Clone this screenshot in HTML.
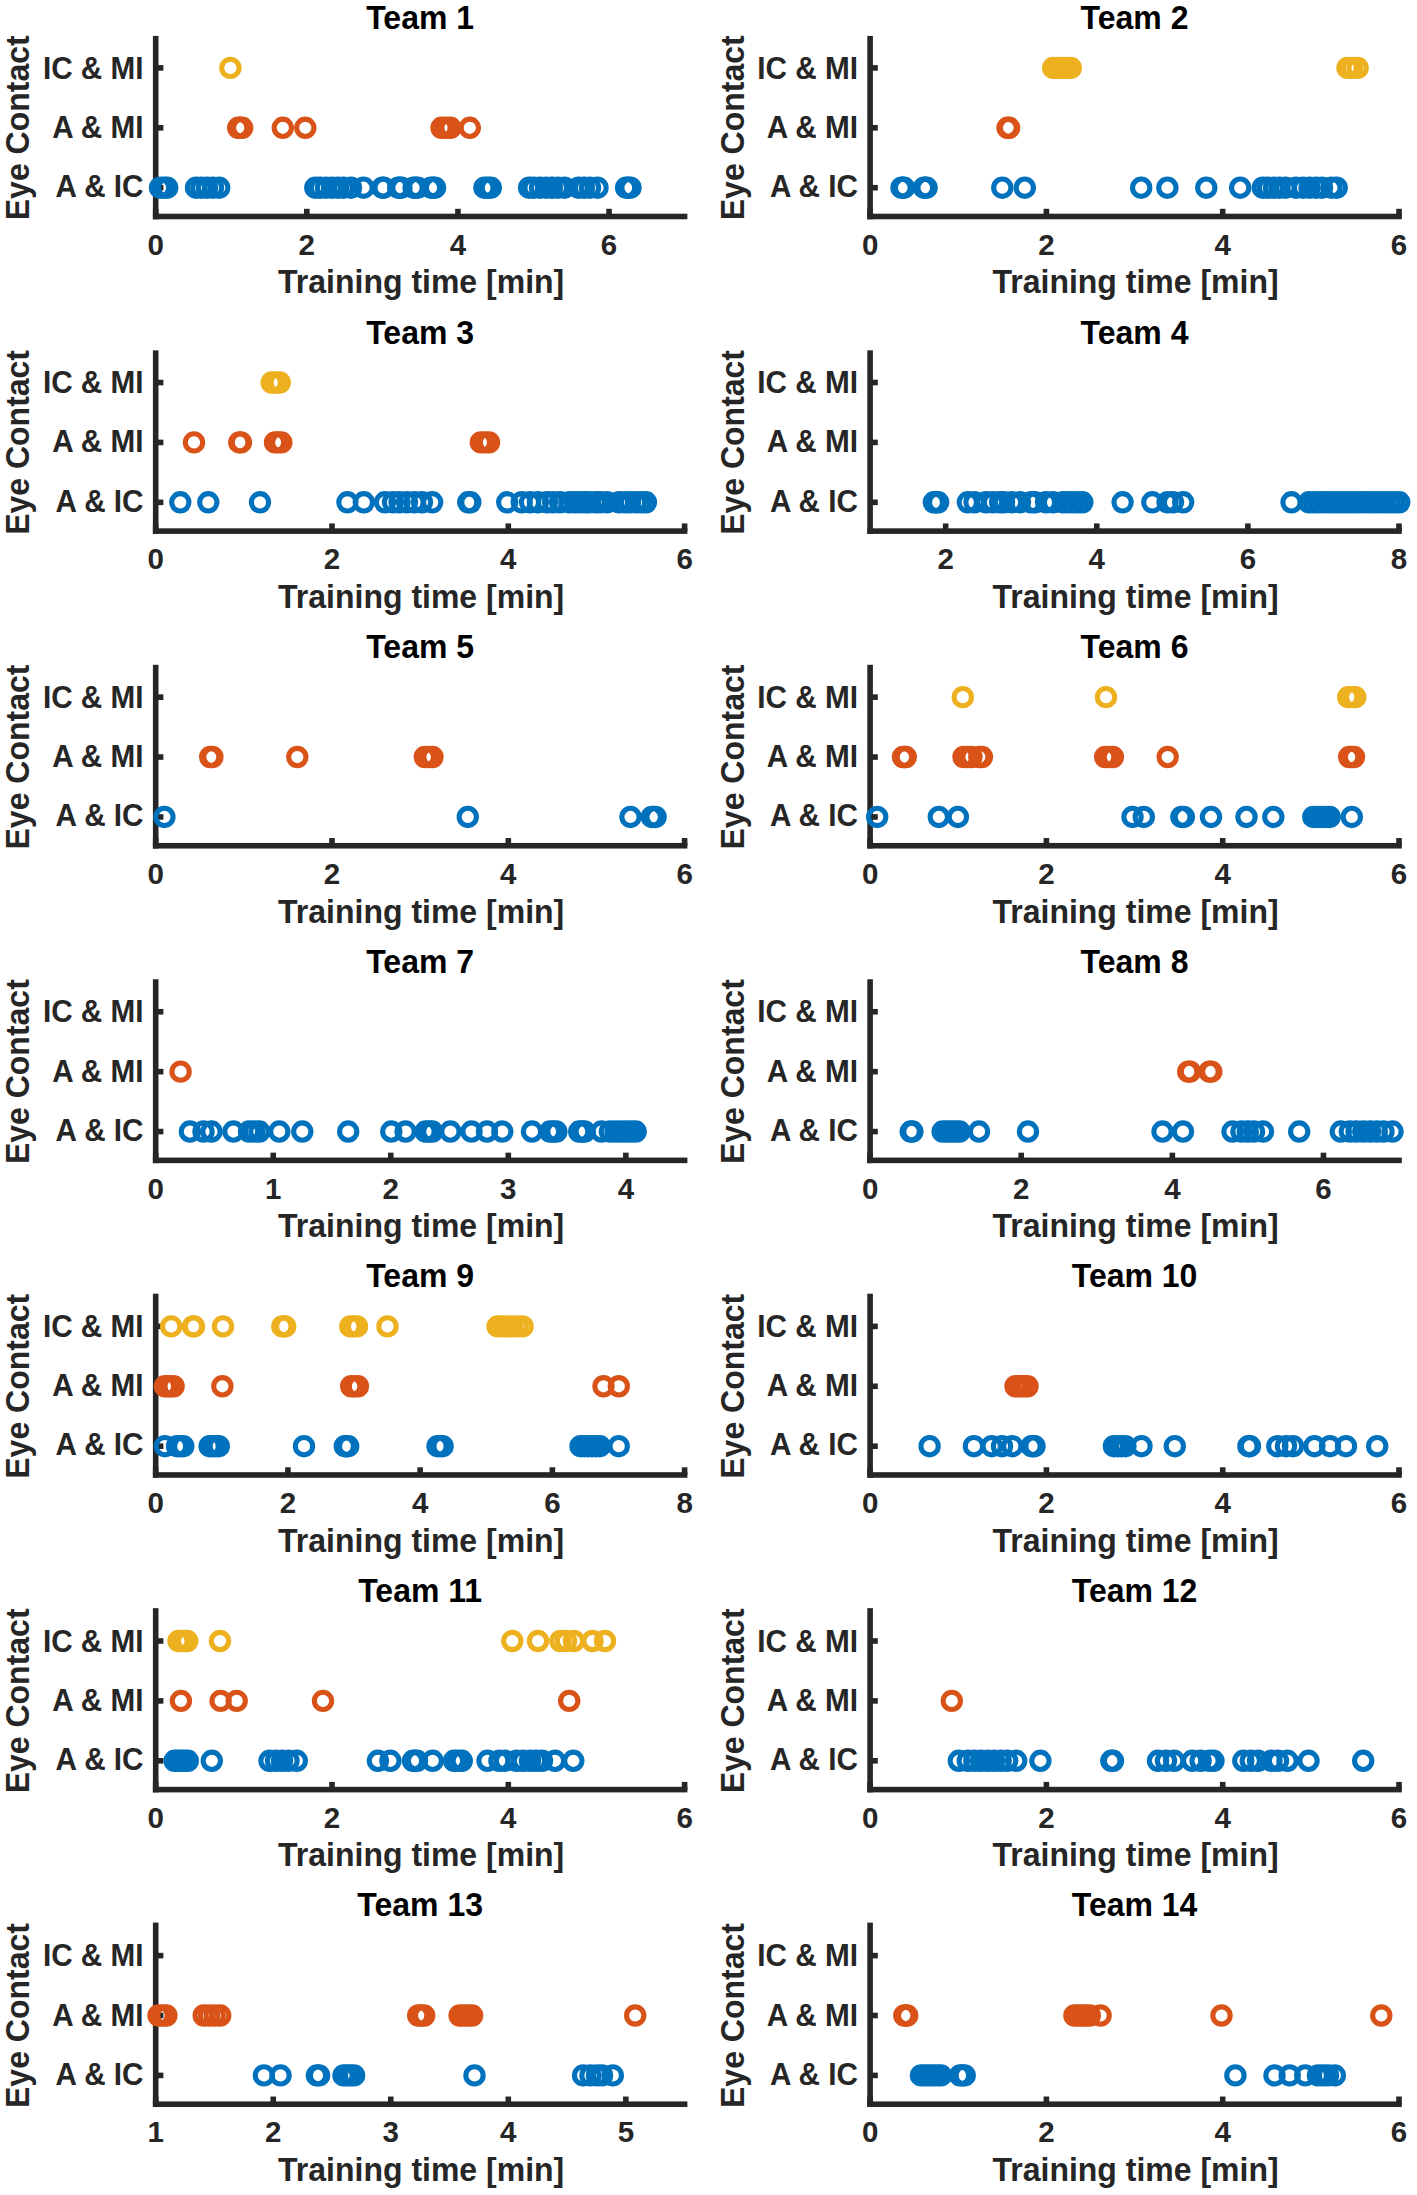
<!DOCTYPE html>
<html><head><meta charset="utf-8"><title>Eye Contact</title>
<style>html,body{margin:0;padding:0;background:#fff;width:1417px;height:2195px;overflow:hidden}
svg{display:block;font-family:"Liberation Sans",sans-serif}</style></head>
<body>
<svg width="1417" height="2195" viewBox="0 0 1417 2195"><g fill="#262626">
<rect x="152.9" y="35.9" width="5.6" height="183.4"/>
<rect x="152.9" y="213.7" width="534.5" height="5.6"/>
<rect x="155.7" y="65.1" width="7.7" height="5.6"/>
<rect x="155.7" y="125" width="7.7" height="5.6"/>
<rect x="155.7" y="184.9" width="7.7" height="5.6"/>
<rect x="152.9" y="208.8" width="5.6" height="7.7"/>
<rect x="304.01" y="208.8" width="5.6" height="7.7"/>
<rect x="455.13" y="208.8" width="5.6" height="7.7"/>
<rect x="606.24" y="208.8" width="5.6" height="7.7"/>
</g>
<g fill="#262626" font-family="Liberation Sans, sans-serif" font-weight="bold">
<text transform="translate(143.5 78.6) scale(1 1.045)" font-size="29.7" text-anchor="end">IC &amp; MI</text>
<text transform="translate(143.5 137.8) scale(1 1.045)" font-size="29.7" text-anchor="end">A &amp; MI</text>
<text transform="translate(143.5 197) scale(1 1.045)" font-size="29.7" text-anchor="end">A &amp; IC</text>
<text transform="translate(155.7 254.7) scale(1 1.02)" font-size="29.5" text-anchor="middle">0</text>
<text transform="translate(306.81 254.7) scale(1 1.02)" font-size="29.5" text-anchor="middle">2</text>
<text transform="translate(457.93 254.7) scale(1 1.02)" font-size="29.5" text-anchor="middle">4</text>
<text transform="translate(609.04 254.7) scale(1 1.02)" font-size="29.5" text-anchor="middle">6</text>
<text transform="translate(421.15 293.3) scale(1 1.045)" font-size="32" text-anchor="middle">Training time [min]</text>
<text transform="translate(29.4 127.8) rotate(-90) scale(1 1.045)" font-size="32" text-anchor="middle">Eye Contact</text>
</g>
<g fill="none" stroke="#0072BD" stroke-width="5.1"><circle cx="160" cy="187.7" r="8.65"/><circle cx="164" cy="187.7" r="8.65"/><circle cx="167.2" cy="187.7" r="8.65"/><circle cx="196" cy="187.7" r="8.65"/><circle cx="201.3" cy="187.7" r="8.65"/><circle cx="207" cy="187.7" r="8.65"/><circle cx="213" cy="187.7" r="8.65"/><circle cx="219.2" cy="187.7" r="8.65"/><circle cx="315.3" cy="187.7" r="8.65"/><circle cx="320" cy="187.7" r="8.65"/><circle cx="326" cy="187.7" r="8.65"/><circle cx="332" cy="187.7" r="8.65"/><circle cx="338" cy="187.7" r="8.65"/><circle cx="343.5" cy="187.7" r="8.65"/><circle cx="351" cy="187.7" r="8.65"/><circle cx="363.5" cy="187.7" r="8.65"/><circle cx="382.4" cy="187.7" r="8.65"/><circle cx="383.6" cy="187.7" r="8.65"/><circle cx="398.2" cy="187.7" r="8.65"/><circle cx="399.8" cy="187.7" r="8.65"/><circle cx="401.4" cy="187.7" r="8.65"/><circle cx="413.6" cy="187.7" r="8.65"/><circle cx="415.65" cy="187.7" r="8.65"/><circle cx="417.7" cy="187.7" r="8.65"/><circle cx="431" cy="187.7" r="8.65"/><circle cx="433" cy="187.7" r="8.65"/><circle cx="435" cy="187.7" r="8.65"/><circle cx="484.4" cy="187.7" r="8.65"/><circle cx="487.6" cy="187.7" r="8.65"/><circle cx="490.8" cy="187.7" r="8.65"/><circle cx="529.1" cy="187.7" r="8.65"/><circle cx="533.6" cy="187.7" r="8.65"/><circle cx="540" cy="187.7" r="8.65"/><circle cx="546" cy="187.7" r="8.65"/><circle cx="552" cy="187.7" r="8.65"/><circle cx="558" cy="187.7" r="8.65"/><circle cx="564.5" cy="187.7" r="8.65"/><circle cx="578.5" cy="187.7" r="8.65"/><circle cx="584" cy="187.7" r="8.65"/><circle cx="590" cy="187.7" r="8.65"/><circle cx="597.5" cy="187.7" r="8.65"/><circle cx="626.1" cy="187.7" r="8.65"/><circle cx="628.3" cy="187.7" r="8.65"/><circle cx="630.5" cy="187.7" r="8.65"/></g>
<g fill="none" stroke="#D95319" stroke-width="5.1"><circle cx="238.2" cy="127.8" r="8.65"/><circle cx="240.2" cy="127.8" r="8.65"/><circle cx="242.2" cy="127.8" r="8.65"/><circle cx="282.8" cy="127.8" r="8.65"/><circle cx="305.3" cy="127.8" r="8.65"/><circle cx="441.5" cy="127.8" r="8.65"/><circle cx="446" cy="127.8" r="8.65"/><circle cx="450.5" cy="127.8" r="8.65"/><circle cx="469.8" cy="127.8" r="8.65"/></g>
<g fill="none" stroke="#EDB120" stroke-width="5.1"><circle cx="230.4" cy="67.9" r="8.65"/></g>
<text transform="translate(420.15 29.2) scale(1 1.045)" font-family="Liberation Sans, sans-serif" font-weight="bold" font-size="32" fill="#000" text-anchor="middle">Team 1</text>
<g fill="#262626">
<rect x="867.3" y="35.9" width="5.6" height="183.4"/>
<rect x="867.3" y="213.7" width="534.5" height="5.6"/>
<rect x="870.1" y="65.1" width="7.7" height="5.6"/>
<rect x="870.1" y="125" width="7.7" height="5.6"/>
<rect x="870.1" y="184.9" width="7.7" height="5.6"/>
<rect x="867.3" y="208.8" width="5.6" height="7.7"/>
<rect x="1043.6" y="208.8" width="5.6" height="7.7"/>
<rect x="1219.9" y="208.8" width="5.6" height="7.7"/>
<rect x="1396.2" y="208.8" width="5.6" height="7.7"/>
</g>
<g fill="#262626" font-family="Liberation Sans, sans-serif" font-weight="bold">
<text transform="translate(857.9 78.6) scale(1 1.045)" font-size="29.7" text-anchor="end">IC &amp; MI</text>
<text transform="translate(857.9 137.8) scale(1 1.045)" font-size="29.7" text-anchor="end">A &amp; MI</text>
<text transform="translate(857.9 197) scale(1 1.045)" font-size="29.7" text-anchor="end">A &amp; IC</text>
<text transform="translate(870.1 254.7) scale(1 1.02)" font-size="29.5" text-anchor="middle">0</text>
<text transform="translate(1046.4 254.7) scale(1 1.02)" font-size="29.5" text-anchor="middle">2</text>
<text transform="translate(1222.7 254.7) scale(1 1.02)" font-size="29.5" text-anchor="middle">4</text>
<text transform="translate(1399 254.7) scale(1 1.02)" font-size="29.5" text-anchor="middle">6</text>
<text transform="translate(1135.55 293.3) scale(1 1.045)" font-size="32" text-anchor="middle">Training time [min]</text>
<text transform="translate(743.8 127.8) rotate(-90) scale(1 1.045)" font-size="32" text-anchor="middle">Eye Contact</text>
</g>
<g fill="none" stroke="#0072BD" stroke-width="5.1"><circle cx="901.5" cy="187.7" r="8.65"/><circle cx="902.75" cy="187.7" r="8.65"/><circle cx="904" cy="187.7" r="8.65"/><circle cx="924" cy="187.7" r="8.65"/><circle cx="925.3" cy="187.7" r="8.65"/><circle cx="926.6" cy="187.7" r="8.65"/><circle cx="1002.3" cy="187.7" r="8.65"/><circle cx="1024.8" cy="187.7" r="8.65"/><circle cx="1141.2" cy="187.7" r="8.65"/><circle cx="1167.4" cy="187.7" r="8.65"/><circle cx="1206.3" cy="187.7" r="8.65"/><circle cx="1240.2" cy="187.7" r="8.65"/><circle cx="1262.8" cy="187.7" r="8.65"/><circle cx="1268" cy="187.7" r="8.65"/><circle cx="1274" cy="187.7" r="8.65"/><circle cx="1279.5" cy="187.7" r="8.65"/><circle cx="1285.5" cy="187.7" r="8.65"/><circle cx="1296" cy="187.7" r="8.65"/><circle cx="1303" cy="187.7" r="8.65"/><circle cx="1309.5" cy="187.7" r="8.65"/><circle cx="1316" cy="187.7" r="8.65"/><circle cx="1322" cy="187.7" r="8.65"/><circle cx="1331.4" cy="187.7" r="8.65"/><circle cx="1336.7" cy="187.7" r="8.65"/></g>
<g fill="none" stroke="#D95319" stroke-width="5.1"><circle cx="1007.5" cy="127.8" r="8.65"/><circle cx="1009.1" cy="127.8" r="8.65"/></g>
<g fill="none" stroke="#EDB120" stroke-width="5.1"><circle cx="1053.2" cy="67.9" r="8.65"/><circle cx="1057.6" cy="67.9" r="8.65"/><circle cx="1062" cy="67.9" r="8.65"/><circle cx="1066.4" cy="67.9" r="8.65"/><circle cx="1070.8" cy="67.9" r="8.65"/><circle cx="1347.5" cy="67.9" r="8.65"/><circle cx="1352" cy="67.9" r="8.65"/><circle cx="1357.6" cy="67.9" r="8.65"/></g>
<text transform="translate(1134.55 29.2) scale(1 1.045)" font-family="Liberation Sans, sans-serif" font-weight="bold" font-size="32" fill="#000" text-anchor="middle">Team 2</text>
<g fill="#262626">
<rect x="152.9" y="350.35" width="5.6" height="183.57"/>
<rect x="152.9" y="528.32" width="534.5" height="5.6"/>
<rect x="155.7" y="379.72" width="7.7" height="5.6"/>
<rect x="155.7" y="439.62" width="7.7" height="5.6"/>
<rect x="155.7" y="499.52" width="7.7" height="5.6"/>
<rect x="152.9" y="523.42" width="5.6" height="7.7"/>
<rect x="329.2" y="523.42" width="5.6" height="7.7"/>
<rect x="505.5" y="523.42" width="5.6" height="7.7"/>
<rect x="681.8" y="523.42" width="5.6" height="7.7"/>
</g>
<g fill="#262626" font-family="Liberation Sans, sans-serif" font-weight="bold">
<text transform="translate(143.5 393.22) scale(1 1.045)" font-size="29.7" text-anchor="end">IC &amp; MI</text>
<text transform="translate(143.5 452.42) scale(1 1.045)" font-size="29.7" text-anchor="end">A &amp; MI</text>
<text transform="translate(143.5 511.62) scale(1 1.045)" font-size="29.7" text-anchor="end">A &amp; IC</text>
<text transform="translate(155.7 569.32) scale(1 1.02)" font-size="29.5" text-anchor="middle">0</text>
<text transform="translate(332 569.32) scale(1 1.02)" font-size="29.5" text-anchor="middle">2</text>
<text transform="translate(508.3 569.32) scale(1 1.02)" font-size="29.5" text-anchor="middle">4</text>
<text transform="translate(684.6 569.32) scale(1 1.02)" font-size="29.5" text-anchor="middle">6</text>
<text transform="translate(421.15 607.92) scale(1 1.045)" font-size="32" text-anchor="middle">Training time [min]</text>
<text transform="translate(29.4 442.42) rotate(-90) scale(1 1.045)" font-size="32" text-anchor="middle">Eye Contact</text>
</g>
<g fill="none" stroke="#0072BD" stroke-width="5.1"><circle cx="180.3" cy="502.32" r="8.65"/><circle cx="208.3" cy="502.32" r="8.65"/><circle cx="260" cy="502.32" r="8.65"/><circle cx="347.4" cy="502.32" r="8.65"/><circle cx="363.8" cy="502.32" r="8.65"/><circle cx="385" cy="502.32" r="8.65"/><circle cx="393" cy="502.32" r="8.65"/><circle cx="399.5" cy="502.32" r="8.65"/><circle cx="407" cy="502.32" r="8.65"/><circle cx="414.5" cy="502.32" r="8.65"/><circle cx="422" cy="502.32" r="8.65"/><circle cx="432.2" cy="502.32" r="8.65"/><circle cx="468.2" cy="502.32" r="8.65"/><circle cx="470.4" cy="502.32" r="8.65"/><circle cx="507.2" cy="502.32" r="8.65"/><circle cx="521.7" cy="502.32" r="8.65"/><circle cx="530" cy="502.32" r="8.65"/><circle cx="537.9" cy="502.32" r="8.65"/><circle cx="547" cy="502.32" r="8.65"/><circle cx="553" cy="502.32" r="8.65"/><circle cx="560" cy="502.32" r="8.65"/><circle cx="569.4" cy="502.32" r="8.65"/><circle cx="575" cy="502.32" r="8.65"/><circle cx="580" cy="502.32" r="8.65"/><circle cx="585" cy="502.32" r="8.65"/><circle cx="589" cy="502.32" r="8.65"/><circle cx="595.5" cy="502.32" r="8.65"/><circle cx="600" cy="502.32" r="8.65"/><circle cx="607" cy="502.32" r="8.65"/><circle cx="619" cy="502.32" r="8.65"/><circle cx="625" cy="502.32" r="8.65"/><circle cx="630" cy="502.32" r="8.65"/><circle cx="636" cy="502.32" r="8.65"/><circle cx="641" cy="502.32" r="8.65"/><circle cx="646" cy="502.32" r="8.65"/></g>
<g fill="none" stroke="#D95319" stroke-width="5.1"><circle cx="194" cy="442.42" r="8.65"/><circle cx="239.3" cy="442.42" r="8.65"/><circle cx="240.9" cy="442.42" r="8.65"/><circle cx="275" cy="442.42" r="8.65"/><circle cx="278" cy="442.42" r="8.65"/><circle cx="281.3" cy="442.42" r="8.65"/><circle cx="480.8" cy="442.42" r="8.65"/><circle cx="484.9" cy="442.42" r="8.65"/><circle cx="489" cy="442.42" r="8.65"/></g>
<g fill="none" stroke="#EDB120" stroke-width="5.1"><circle cx="271.7" cy="382.52" r="8.65"/><circle cx="275.7" cy="382.52" r="8.65"/><circle cx="279.7" cy="382.52" r="8.65"/></g>
<text transform="translate(420.15 343.7) scale(1 1.045)" font-family="Liberation Sans, sans-serif" font-weight="bold" font-size="32" fill="#000" text-anchor="middle">Team 3</text>
<g fill="#262626">
<rect x="867.3" y="350.35" width="5.6" height="183.57"/>
<rect x="867.3" y="528.32" width="534.5" height="5.6"/>
<rect x="870.1" y="379.72" width="7.7" height="5.6"/>
<rect x="870.1" y="439.62" width="7.7" height="5.6"/>
<rect x="870.1" y="499.52" width="7.7" height="5.6"/>
<rect x="942.86" y="523.42" width="5.6" height="7.7"/>
<rect x="1093.97" y="523.42" width="5.6" height="7.7"/>
<rect x="1245.09" y="523.42" width="5.6" height="7.7"/>
<rect x="1396.2" y="523.42" width="5.6" height="7.7"/>
</g>
<g fill="#262626" font-family="Liberation Sans, sans-serif" font-weight="bold">
<text transform="translate(857.9 393.22) scale(1 1.045)" font-size="29.7" text-anchor="end">IC &amp; MI</text>
<text transform="translate(857.9 452.42) scale(1 1.045)" font-size="29.7" text-anchor="end">A &amp; MI</text>
<text transform="translate(857.9 511.62) scale(1 1.045)" font-size="29.7" text-anchor="end">A &amp; IC</text>
<text transform="translate(945.66 569.32) scale(1 1.02)" font-size="29.5" text-anchor="middle">2</text>
<text transform="translate(1096.77 569.32) scale(1 1.02)" font-size="29.5" text-anchor="middle">4</text>
<text transform="translate(1247.89 569.32) scale(1 1.02)" font-size="29.5" text-anchor="middle">6</text>
<text transform="translate(1399 569.32) scale(1 1.02)" font-size="29.5" text-anchor="middle">8</text>
<text transform="translate(1135.55 607.92) scale(1 1.045)" font-size="32" text-anchor="middle">Training time [min]</text>
<text transform="translate(743.8 442.42) rotate(-90) scale(1 1.045)" font-size="32" text-anchor="middle">Eye Contact</text>
</g>
<g fill="none" stroke="#0072BD" stroke-width="5.1"><circle cx="933.8" cy="502.32" r="8.65"/><circle cx="936" cy="502.32" r="8.65"/><circle cx="938.2" cy="502.32" r="8.65"/><circle cx="967.8" cy="502.32" r="8.65"/><circle cx="974.5" cy="502.32" r="8.65"/><circle cx="986" cy="502.32" r="8.65"/><circle cx="993" cy="502.32" r="8.65"/><circle cx="1000" cy="502.32" r="8.65"/><circle cx="1004" cy="502.32" r="8.65"/><circle cx="1012" cy="502.32" r="8.65"/><circle cx="1020" cy="502.32" r="8.65"/><circle cx="1031" cy="502.32" r="8.65"/><circle cx="1035" cy="502.32" r="8.65"/><circle cx="1046" cy="502.32" r="8.65"/><circle cx="1053" cy="502.32" r="8.65"/><circle cx="1063" cy="502.32" r="8.65"/><circle cx="1068" cy="502.32" r="8.65"/><circle cx="1073" cy="502.32" r="8.65"/><circle cx="1078" cy="502.32" r="8.65"/><circle cx="1082.4" cy="502.32" r="8.65"/><circle cx="1122.6" cy="502.32" r="8.65"/><circle cx="1152.3" cy="502.32" r="8.65"/><circle cx="1167.5" cy="502.32" r="8.65"/><circle cx="1173" cy="502.32" r="8.65"/><circle cx="1183.2" cy="502.32" r="8.65"/><circle cx="1291.5" cy="502.32" r="8.65"/><circle cx="1309" cy="502.32" r="8.65"/><circle cx="1314.02" cy="502.32" r="8.65"/><circle cx="1319.03" cy="502.32" r="8.65"/><circle cx="1324.05" cy="502.32" r="8.65"/><circle cx="1329.07" cy="502.32" r="8.65"/><circle cx="1334.08" cy="502.32" r="8.65"/><circle cx="1339.1" cy="502.32" r="8.65"/><circle cx="1344.12" cy="502.32" r="8.65"/><circle cx="1349.13" cy="502.32" r="8.65"/><circle cx="1354.15" cy="502.32" r="8.65"/><circle cx="1359.17" cy="502.32" r="8.65"/><circle cx="1364.18" cy="502.32" r="8.65"/><circle cx="1369.2" cy="502.32" r="8.65"/><circle cx="1374.22" cy="502.32" r="8.65"/><circle cx="1379.23" cy="502.32" r="8.65"/><circle cx="1384.25" cy="502.32" r="8.65"/><circle cx="1389.27" cy="502.32" r="8.65"/><circle cx="1394.28" cy="502.32" r="8.65"/><circle cx="1399.3" cy="502.32" r="8.65"/></g>
<text transform="translate(1134.55 343.7) scale(1 1.045)" font-family="Liberation Sans, sans-serif" font-weight="bold" font-size="32" fill="#000" text-anchor="middle">Team 4</text>
<g fill="#262626">
<rect x="152.9" y="664.8" width="5.6" height="183.74"/>
<rect x="152.9" y="842.94" width="534.5" height="5.6"/>
<rect x="155.7" y="694.34" width="7.7" height="5.6"/>
<rect x="155.7" y="754.24" width="7.7" height="5.6"/>
<rect x="155.7" y="814.14" width="7.7" height="5.6"/>
<rect x="152.9" y="838.04" width="5.6" height="7.7"/>
<rect x="329.2" y="838.04" width="5.6" height="7.7"/>
<rect x="505.5" y="838.04" width="5.6" height="7.7"/>
<rect x="681.8" y="838.04" width="5.6" height="7.7"/>
</g>
<g fill="#262626" font-family="Liberation Sans, sans-serif" font-weight="bold">
<text transform="translate(143.5 707.84) scale(1 1.045)" font-size="29.7" text-anchor="end">IC &amp; MI</text>
<text transform="translate(143.5 767.04) scale(1 1.045)" font-size="29.7" text-anchor="end">A &amp; MI</text>
<text transform="translate(143.5 826.24) scale(1 1.045)" font-size="29.7" text-anchor="end">A &amp; IC</text>
<text transform="translate(155.7 883.94) scale(1 1.02)" font-size="29.5" text-anchor="middle">0</text>
<text transform="translate(332 883.94) scale(1 1.02)" font-size="29.5" text-anchor="middle">2</text>
<text transform="translate(508.3 883.94) scale(1 1.02)" font-size="29.5" text-anchor="middle">4</text>
<text transform="translate(684.6 883.94) scale(1 1.02)" font-size="29.5" text-anchor="middle">6</text>
<text transform="translate(421.15 922.54) scale(1 1.045)" font-size="32" text-anchor="middle">Training time [min]</text>
<text transform="translate(29.4 757.04) rotate(-90) scale(1 1.045)" font-size="32" text-anchor="middle">Eye Contact</text>
</g>
<g fill="none" stroke="#0072BD" stroke-width="5.1"><circle cx="164.4" cy="816.94" r="8.65"/><circle cx="467.8" cy="816.94" r="8.65"/><circle cx="630.5" cy="816.94" r="8.65"/><circle cx="651.8" cy="816.94" r="8.65"/><circle cx="653.7" cy="816.94" r="8.65"/><circle cx="655.6" cy="816.94" r="8.65"/></g>
<g fill="none" stroke="#D95319" stroke-width="5.1"><circle cx="210.2" cy="757.04" r="8.65"/><circle cx="212.4" cy="757.04" r="8.65"/><circle cx="297.3" cy="757.04" r="8.65"/><circle cx="424.8" cy="757.04" r="8.65"/><circle cx="428.6" cy="757.04" r="8.65"/><circle cx="432.5" cy="757.04" r="8.65"/></g>
<text transform="translate(420.15 658.2) scale(1 1.045)" font-family="Liberation Sans, sans-serif" font-weight="bold" font-size="32" fill="#000" text-anchor="middle">Team 5</text>
<g fill="#262626">
<rect x="867.3" y="664.8" width="5.6" height="183.74"/>
<rect x="867.3" y="842.94" width="534.5" height="5.6"/>
<rect x="870.1" y="694.34" width="7.7" height="5.6"/>
<rect x="870.1" y="754.24" width="7.7" height="5.6"/>
<rect x="870.1" y="814.14" width="7.7" height="5.6"/>
<rect x="867.3" y="838.04" width="5.6" height="7.7"/>
<rect x="1043.6" y="838.04" width="5.6" height="7.7"/>
<rect x="1219.9" y="838.04" width="5.6" height="7.7"/>
<rect x="1396.2" y="838.04" width="5.6" height="7.7"/>
</g>
<g fill="#262626" font-family="Liberation Sans, sans-serif" font-weight="bold">
<text transform="translate(857.9 707.84) scale(1 1.045)" font-size="29.7" text-anchor="end">IC &amp; MI</text>
<text transform="translate(857.9 767.04) scale(1 1.045)" font-size="29.7" text-anchor="end">A &amp; MI</text>
<text transform="translate(857.9 826.24) scale(1 1.045)" font-size="29.7" text-anchor="end">A &amp; IC</text>
<text transform="translate(870.1 883.94) scale(1 1.02)" font-size="29.5" text-anchor="middle">0</text>
<text transform="translate(1046.4 883.94) scale(1 1.02)" font-size="29.5" text-anchor="middle">2</text>
<text transform="translate(1222.7 883.94) scale(1 1.02)" font-size="29.5" text-anchor="middle">4</text>
<text transform="translate(1399 883.94) scale(1 1.02)" font-size="29.5" text-anchor="middle">6</text>
<text transform="translate(1135.55 922.54) scale(1 1.045)" font-size="32" text-anchor="middle">Training time [min]</text>
<text transform="translate(743.8 757.04) rotate(-90) scale(1 1.045)" font-size="32" text-anchor="middle">Eye Contact</text>
</g>
<g fill="none" stroke="#0072BD" stroke-width="5.1"><circle cx="877.2" cy="816.94" r="8.65"/><circle cx="938.8" cy="816.94" r="8.65"/><circle cx="957.9" cy="816.94" r="8.65"/><circle cx="1132.5" cy="816.94" r="8.65"/><circle cx="1143.8" cy="816.94" r="8.65"/><circle cx="1181.4" cy="816.94" r="8.65"/><circle cx="1183.8" cy="816.94" r="8.65"/><circle cx="1211" cy="816.94" r="8.65"/><circle cx="1246.5" cy="816.94" r="8.65"/><circle cx="1273.3" cy="816.94" r="8.65"/><circle cx="1313.3" cy="816.94" r="8.65"/><circle cx="1317.5" cy="816.94" r="8.65"/><circle cx="1321.5" cy="816.94" r="8.65"/><circle cx="1325.5" cy="816.94" r="8.65"/><circle cx="1329.7" cy="816.94" r="8.65"/><circle cx="1351.8" cy="816.94" r="8.65"/></g>
<g fill="none" stroke="#D95319" stroke-width="5.1"><circle cx="903" cy="757.04" r="8.65"/><circle cx="904.4" cy="757.04" r="8.65"/><circle cx="905.8" cy="757.04" r="8.65"/><circle cx="963.5" cy="757.04" r="8.65"/><circle cx="967.5" cy="757.04" r="8.65"/><circle cx="971.5" cy="757.04" r="8.65"/><circle cx="979.3" cy="757.04" r="8.65"/><circle cx="981.9" cy="757.04" r="8.65"/><circle cx="1105.2" cy="757.04" r="8.65"/><circle cx="1109" cy="757.04" r="8.65"/><circle cx="1112.9" cy="757.04" r="8.65"/><circle cx="1167.7" cy="757.04" r="8.65"/><circle cx="1349.2" cy="757.04" r="8.65"/><circle cx="1351.6" cy="757.04" r="8.65"/><circle cx="1354" cy="757.04" r="8.65"/></g>
<g fill="none" stroke="#EDB120" stroke-width="5.1"><circle cx="962.8" cy="697.14" r="8.65"/><circle cx="1106" cy="697.14" r="8.65"/><circle cx="1348.2" cy="697.14" r="8.65"/><circle cx="1351.8" cy="697.14" r="8.65"/><circle cx="1355.3" cy="697.14" r="8.65"/></g>
<text transform="translate(1134.55 658.2) scale(1 1.045)" font-family="Liberation Sans, sans-serif" font-weight="bold" font-size="32" fill="#000" text-anchor="middle">Team 6</text>
<g fill="#262626">
<rect x="152.9" y="979.25" width="5.6" height="183.91"/>
<rect x="152.9" y="1157.56" width="534.5" height="5.6"/>
<rect x="155.7" y="1008.96" width="7.7" height="5.6"/>
<rect x="155.7" y="1068.86" width="7.7" height="5.6"/>
<rect x="155.7" y="1128.76" width="7.7" height="5.6"/>
<rect x="152.9" y="1152.66" width="5.6" height="7.7"/>
<rect x="270.43" y="1152.66" width="5.6" height="7.7"/>
<rect x="387.97" y="1152.66" width="5.6" height="7.7"/>
<rect x="505.5" y="1152.66" width="5.6" height="7.7"/>
<rect x="623.03" y="1152.66" width="5.6" height="7.7"/>
</g>
<g fill="#262626" font-family="Liberation Sans, sans-serif" font-weight="bold">
<text transform="translate(143.5 1022.46) scale(1 1.045)" font-size="29.7" text-anchor="end">IC &amp; MI</text>
<text transform="translate(143.5 1081.66) scale(1 1.045)" font-size="29.7" text-anchor="end">A &amp; MI</text>
<text transform="translate(143.5 1140.86) scale(1 1.045)" font-size="29.7" text-anchor="end">A &amp; IC</text>
<text transform="translate(155.7 1198.56) scale(1 1.02)" font-size="29.5" text-anchor="middle">0</text>
<text transform="translate(273.23 1198.56) scale(1 1.02)" font-size="29.5" text-anchor="middle">1</text>
<text transform="translate(390.77 1198.56) scale(1 1.02)" font-size="29.5" text-anchor="middle">2</text>
<text transform="translate(508.3 1198.56) scale(1 1.02)" font-size="29.5" text-anchor="middle">3</text>
<text transform="translate(625.83 1198.56) scale(1 1.02)" font-size="29.5" text-anchor="middle">4</text>
<text transform="translate(421.15 1237.16) scale(1 1.045)" font-size="32" text-anchor="middle">Training time [min]</text>
<text transform="translate(29.4 1071.66) rotate(-90) scale(1 1.045)" font-size="32" text-anchor="middle">Eye Contact</text>
</g>
<g fill="none" stroke="#0072BD" stroke-width="5.1"><circle cx="189.9" cy="1131.56" r="8.65"/><circle cx="203.5" cy="1131.56" r="8.65"/><circle cx="211.5" cy="1131.56" r="8.65"/><circle cx="233.4" cy="1131.56" r="8.65"/><circle cx="249" cy="1131.56" r="8.65"/><circle cx="254" cy="1131.56" r="8.65"/><circle cx="259.4" cy="1131.56" r="8.65"/><circle cx="279.3" cy="1131.56" r="8.65"/><circle cx="302.3" cy="1131.56" r="8.65"/><circle cx="348.2" cy="1131.56" r="8.65"/><circle cx="391.3" cy="1131.56" r="8.65"/><circle cx="405.6" cy="1131.56" r="8.65"/><circle cx="425.5" cy="1131.56" r="8.65"/><circle cx="429" cy="1131.56" r="8.65"/><circle cx="432.3" cy="1131.56" r="8.65"/><circle cx="450.4" cy="1131.56" r="8.65"/><circle cx="471.5" cy="1131.56" r="8.65"/><circle cx="487" cy="1131.56" r="8.65"/><circle cx="502.3" cy="1131.56" r="8.65"/><circle cx="532" cy="1131.56" r="8.65"/><circle cx="550" cy="1131.56" r="8.65"/><circle cx="553.2" cy="1131.56" r="8.65"/><circle cx="556.4" cy="1131.56" r="8.65"/><circle cx="579.2" cy="1131.56" r="8.65"/><circle cx="581.95" cy="1131.56" r="8.65"/><circle cx="584.7" cy="1131.56" r="8.65"/><circle cx="601.5" cy="1131.56" r="8.65"/><circle cx="609.9" cy="1131.56" r="8.65"/><circle cx="615.5" cy="1131.56" r="8.65"/><circle cx="621" cy="1131.56" r="8.65"/><circle cx="626" cy="1131.56" r="8.65"/><circle cx="631" cy="1131.56" r="8.65"/><circle cx="635.7" cy="1131.56" r="8.65"/></g>
<g fill="none" stroke="#D95319" stroke-width="5.1"><circle cx="180.6" cy="1071.66" r="8.65"/></g>
<text transform="translate(420.15 972.7) scale(1 1.045)" font-family="Liberation Sans, sans-serif" font-weight="bold" font-size="32" fill="#000" text-anchor="middle">Team 7</text>
<g fill="#262626">
<rect x="867.3" y="979.25" width="5.6" height="183.91"/>
<rect x="867.3" y="1157.56" width="534.5" height="5.6"/>
<rect x="870.1" y="1008.96" width="7.7" height="5.6"/>
<rect x="870.1" y="1068.86" width="7.7" height="5.6"/>
<rect x="870.1" y="1128.76" width="7.7" height="5.6"/>
<rect x="867.3" y="1152.66" width="5.6" height="7.7"/>
<rect x="1018.41" y="1152.66" width="5.6" height="7.7"/>
<rect x="1169.53" y="1152.66" width="5.6" height="7.7"/>
<rect x="1320.64" y="1152.66" width="5.6" height="7.7"/>
</g>
<g fill="#262626" font-family="Liberation Sans, sans-serif" font-weight="bold">
<text transform="translate(857.9 1022.46) scale(1 1.045)" font-size="29.7" text-anchor="end">IC &amp; MI</text>
<text transform="translate(857.9 1081.66) scale(1 1.045)" font-size="29.7" text-anchor="end">A &amp; MI</text>
<text transform="translate(857.9 1140.86) scale(1 1.045)" font-size="29.7" text-anchor="end">A &amp; IC</text>
<text transform="translate(870.1 1198.56) scale(1 1.02)" font-size="29.5" text-anchor="middle">0</text>
<text transform="translate(1021.21 1198.56) scale(1 1.02)" font-size="29.5" text-anchor="middle">2</text>
<text transform="translate(1172.33 1198.56) scale(1 1.02)" font-size="29.5" text-anchor="middle">4</text>
<text transform="translate(1323.44 1198.56) scale(1 1.02)" font-size="29.5" text-anchor="middle">6</text>
<text transform="translate(1135.55 1237.16) scale(1 1.045)" font-size="32" text-anchor="middle">Training time [min]</text>
<text transform="translate(743.8 1071.66) rotate(-90) scale(1 1.045)" font-size="32" text-anchor="middle">Eye Contact</text>
</g>
<g fill="none" stroke="#0072BD" stroke-width="5.1"><circle cx="910.7" cy="1131.56" r="8.65"/><circle cx="912.4" cy="1131.56" r="8.65"/><circle cx="942.6" cy="1131.56" r="8.65"/><circle cx="946.85" cy="1131.56" r="8.65"/><circle cx="951.1" cy="1131.56" r="8.65"/><circle cx="955.35" cy="1131.56" r="8.65"/><circle cx="959.6" cy="1131.56" r="8.65"/><circle cx="979" cy="1131.56" r="8.65"/><circle cx="1028" cy="1131.56" r="8.65"/><circle cx="1162.5" cy="1131.56" r="8.65"/><circle cx="1183" cy="1131.56" r="8.65"/><circle cx="1232.5" cy="1131.56" r="8.65"/><circle cx="1241.5" cy="1131.56" r="8.65"/><circle cx="1247.75" cy="1131.56" r="8.65"/><circle cx="1254" cy="1131.56" r="8.65"/><circle cx="1263" cy="1131.56" r="8.65"/><circle cx="1299.2" cy="1131.56" r="8.65"/><circle cx="1340.8" cy="1131.56" r="8.65"/><circle cx="1349.8" cy="1131.56" r="8.65"/><circle cx="1356.54" cy="1131.56" r="8.65"/><circle cx="1363.28" cy="1131.56" r="8.65"/><circle cx="1370.02" cy="1131.56" r="8.65"/><circle cx="1376.76" cy="1131.56" r="8.65"/><circle cx="1383.5" cy="1131.56" r="8.65"/><circle cx="1392.5" cy="1131.56" r="8.65"/></g>
<g fill="none" stroke="#D95319" stroke-width="5.1"><circle cx="1188.2" cy="1071.66" r="8.65"/><circle cx="1190" cy="1071.66" r="8.65"/><circle cx="1209.5" cy="1071.66" r="8.65"/><circle cx="1211.3" cy="1071.66" r="8.65"/></g>
<text transform="translate(1134.55 972.7) scale(1 1.045)" font-family="Liberation Sans, sans-serif" font-weight="bold" font-size="32" fill="#000" text-anchor="middle">Team 8</text>
<g fill="#262626">
<rect x="152.9" y="1293.7" width="5.6" height="184.08"/>
<rect x="152.9" y="1472.18" width="534.5" height="5.6"/>
<rect x="155.7" y="1323.58" width="7.7" height="5.6"/>
<rect x="155.7" y="1383.48" width="7.7" height="5.6"/>
<rect x="155.7" y="1443.38" width="7.7" height="5.6"/>
<rect x="152.9" y="1467.28" width="5.6" height="7.7"/>
<rect x="285.12" y="1467.28" width="5.6" height="7.7"/>
<rect x="417.35" y="1467.28" width="5.6" height="7.7"/>
<rect x="549.58" y="1467.28" width="5.6" height="7.7"/>
<rect x="681.8" y="1467.28" width="5.6" height="7.7"/>
</g>
<g fill="#262626" font-family="Liberation Sans, sans-serif" font-weight="bold">
<text transform="translate(143.5 1337.08) scale(1 1.045)" font-size="29.7" text-anchor="end">IC &amp; MI</text>
<text transform="translate(143.5 1396.28) scale(1 1.045)" font-size="29.7" text-anchor="end">A &amp; MI</text>
<text transform="translate(143.5 1455.48) scale(1 1.045)" font-size="29.7" text-anchor="end">A &amp; IC</text>
<text transform="translate(155.7 1513.18) scale(1 1.02)" font-size="29.5" text-anchor="middle">0</text>
<text transform="translate(287.92 1513.18) scale(1 1.02)" font-size="29.5" text-anchor="middle">2</text>
<text transform="translate(420.15 1513.18) scale(1 1.02)" font-size="29.5" text-anchor="middle">4</text>
<text transform="translate(552.38 1513.18) scale(1 1.02)" font-size="29.5" text-anchor="middle">6</text>
<text transform="translate(684.6 1513.18) scale(1 1.02)" font-size="29.5" text-anchor="middle">8</text>
<text transform="translate(421.15 1551.78) scale(1 1.045)" font-size="32" text-anchor="middle">Training time [min]</text>
<text transform="translate(29.4 1386.28) rotate(-90) scale(1 1.045)" font-size="32" text-anchor="middle">Eye Contact</text>
</g>
<g fill="none" stroke="#0072BD" stroke-width="5.1"><circle cx="164.9" cy="1446.18" r="8.65"/><circle cx="177" cy="1446.18" r="8.65"/><circle cx="180.15" cy="1446.18" r="8.65"/><circle cx="183.3" cy="1446.18" r="8.65"/><circle cx="209.6" cy="1446.18" r="8.65"/><circle cx="212.6" cy="1446.18" r="8.65"/><circle cx="215.7" cy="1446.18" r="8.65"/><circle cx="218.8" cy="1446.18" r="8.65"/><circle cx="304" cy="1446.18" r="8.65"/><circle cx="344.8" cy="1446.18" r="8.65"/><circle cx="346.5" cy="1446.18" r="8.65"/><circle cx="348.2" cy="1446.18" r="8.65"/><circle cx="437.5" cy="1446.18" r="8.65"/><circle cx="440" cy="1446.18" r="8.65"/><circle cx="442.6" cy="1446.18" r="8.65"/><circle cx="580.5" cy="1446.18" r="8.65"/><circle cx="584.36" cy="1446.18" r="8.65"/><circle cx="588.22" cy="1446.18" r="8.65"/><circle cx="592.08" cy="1446.18" r="8.65"/><circle cx="595.94" cy="1446.18" r="8.65"/><circle cx="599.8" cy="1446.18" r="8.65"/><circle cx="618.7" cy="1446.18" r="8.65"/></g>
<g fill="none" stroke="#D95319" stroke-width="5.1"><circle cx="164.9" cy="1386.28" r="8.65"/><circle cx="167.8" cy="1386.28" r="8.65"/><circle cx="170.7" cy="1386.28" r="8.65"/><circle cx="173.6" cy="1386.28" r="8.65"/><circle cx="222.4" cy="1386.28" r="8.65"/><circle cx="351.2" cy="1386.28" r="8.65"/><circle cx="354.5" cy="1386.28" r="8.65"/><circle cx="357.9" cy="1386.28" r="8.65"/><circle cx="603.5" cy="1386.28" r="8.65"/><circle cx="618.8" cy="1386.28" r="8.65"/></g>
<g fill="none" stroke="#EDB120" stroke-width="5.1"><circle cx="171.2" cy="1326.38" r="8.65"/><circle cx="193" cy="1326.38" r="8.65"/><circle cx="194" cy="1326.38" r="8.65"/><circle cx="223" cy="1326.38" r="8.65"/><circle cx="282.3" cy="1326.38" r="8.65"/><circle cx="283.75" cy="1326.38" r="8.65"/><circle cx="285.2" cy="1326.38" r="8.65"/><circle cx="350.3" cy="1326.38" r="8.65"/><circle cx="353.6" cy="1326.38" r="8.65"/><circle cx="357" cy="1326.38" r="8.65"/><circle cx="387.5" cy="1326.38" r="8.65"/><circle cx="497.6" cy="1326.38" r="8.65"/><circle cx="502" cy="1326.38" r="8.65"/><circle cx="507" cy="1326.38" r="8.65"/><circle cx="512" cy="1326.38" r="8.65"/><circle cx="517.5" cy="1326.38" r="8.65"/><circle cx="522.6" cy="1326.38" r="8.65"/></g>
<text transform="translate(420.15 1287.2) scale(1 1.045)" font-family="Liberation Sans, sans-serif" font-weight="bold" font-size="32" fill="#000" text-anchor="middle">Team 9</text>
<g fill="#262626">
<rect x="867.3" y="1293.7" width="5.6" height="184.08"/>
<rect x="867.3" y="1472.18" width="534.5" height="5.6"/>
<rect x="870.1" y="1323.58" width="7.7" height="5.6"/>
<rect x="870.1" y="1383.48" width="7.7" height="5.6"/>
<rect x="870.1" y="1443.38" width="7.7" height="5.6"/>
<rect x="867.3" y="1467.28" width="5.6" height="7.7"/>
<rect x="1043.6" y="1467.28" width="5.6" height="7.7"/>
<rect x="1219.9" y="1467.28" width="5.6" height="7.7"/>
<rect x="1396.2" y="1467.28" width="5.6" height="7.7"/>
</g>
<g fill="#262626" font-family="Liberation Sans, sans-serif" font-weight="bold">
<text transform="translate(857.9 1337.08) scale(1 1.045)" font-size="29.7" text-anchor="end">IC &amp; MI</text>
<text transform="translate(857.9 1396.28) scale(1 1.045)" font-size="29.7" text-anchor="end">A &amp; MI</text>
<text transform="translate(857.9 1455.48) scale(1 1.045)" font-size="29.7" text-anchor="end">A &amp; IC</text>
<text transform="translate(870.1 1513.18) scale(1 1.02)" font-size="29.5" text-anchor="middle">0</text>
<text transform="translate(1046.4 1513.18) scale(1 1.02)" font-size="29.5" text-anchor="middle">2</text>
<text transform="translate(1222.7 1513.18) scale(1 1.02)" font-size="29.5" text-anchor="middle">4</text>
<text transform="translate(1399 1513.18) scale(1 1.02)" font-size="29.5" text-anchor="middle">6</text>
<text transform="translate(1135.55 1551.78) scale(1 1.045)" font-size="32" text-anchor="middle">Training time [min]</text>
<text transform="translate(743.8 1386.28) rotate(-90) scale(1 1.045)" font-size="32" text-anchor="middle">Eye Contact</text>
</g>
<g fill="none" stroke="#0072BD" stroke-width="5.1"><circle cx="929.6" cy="1446.18" r="8.65"/><circle cx="973.9" cy="1446.18" r="8.65"/><circle cx="991.7" cy="1446.18" r="8.65"/><circle cx="1002" cy="1446.18" r="8.65"/><circle cx="1012.3" cy="1446.18" r="8.65"/><circle cx="1031.5" cy="1446.18" r="8.65"/><circle cx="1033" cy="1446.18" r="8.65"/><circle cx="1034.5" cy="1446.18" r="8.65"/><circle cx="1113.9" cy="1446.18" r="8.65"/><circle cx="1117.5" cy="1446.18" r="8.65"/><circle cx="1121.5" cy="1446.18" r="8.65"/><circle cx="1125.4" cy="1446.18" r="8.65"/><circle cx="1141.5" cy="1446.18" r="8.65"/><circle cx="1174.8" cy="1446.18" r="8.65"/><circle cx="1248.4" cy="1446.18" r="8.65"/><circle cx="1250" cy="1446.18" r="8.65"/><circle cx="1277.3" cy="1446.18" r="8.65"/><circle cx="1286" cy="1446.18" r="8.65"/><circle cx="1293" cy="1446.18" r="8.65"/><circle cx="1314.4" cy="1446.18" r="8.65"/><circle cx="1330" cy="1446.18" r="8.65"/><circle cx="1346" cy="1446.18" r="8.65"/><circle cx="1377.2" cy="1446.18" r="8.65"/></g>
<g fill="none" stroke="#D95319" stroke-width="5.1"><circle cx="1015.5" cy="1386.28" r="8.65"/><circle cx="1018.5" cy="1386.28" r="8.65"/><circle cx="1021.5" cy="1386.28" r="8.65"/><circle cx="1024.5" cy="1386.28" r="8.65"/><circle cx="1027.5" cy="1386.28" r="8.65"/></g>
<text transform="translate(1134.55 1287.2) scale(1 1.045)" font-family="Liberation Sans, sans-serif" font-weight="bold" font-size="32" fill="#000" text-anchor="middle">Team 10</text>
<g fill="#262626">
<rect x="152.9" y="1608.15" width="5.6" height="184.25"/>
<rect x="152.9" y="1786.8" width="534.5" height="5.6"/>
<rect x="155.7" y="1638.2" width="7.7" height="5.6"/>
<rect x="155.7" y="1698.1" width="7.7" height="5.6"/>
<rect x="155.7" y="1758" width="7.7" height="5.6"/>
<rect x="152.9" y="1781.9" width="5.6" height="7.7"/>
<rect x="329.2" y="1781.9" width="5.6" height="7.7"/>
<rect x="505.5" y="1781.9" width="5.6" height="7.7"/>
<rect x="681.8" y="1781.9" width="5.6" height="7.7"/>
</g>
<g fill="#262626" font-family="Liberation Sans, sans-serif" font-weight="bold">
<text transform="translate(143.5 1651.7) scale(1 1.045)" font-size="29.7" text-anchor="end">IC &amp; MI</text>
<text transform="translate(143.5 1710.9) scale(1 1.045)" font-size="29.7" text-anchor="end">A &amp; MI</text>
<text transform="translate(143.5 1770.1) scale(1 1.045)" font-size="29.7" text-anchor="end">A &amp; IC</text>
<text transform="translate(155.7 1827.8) scale(1 1.02)" font-size="29.5" text-anchor="middle">0</text>
<text transform="translate(332 1827.8) scale(1 1.02)" font-size="29.5" text-anchor="middle">2</text>
<text transform="translate(508.3 1827.8) scale(1 1.02)" font-size="29.5" text-anchor="middle">4</text>
<text transform="translate(684.6 1827.8) scale(1 1.02)" font-size="29.5" text-anchor="middle">6</text>
<text transform="translate(421.15 1866.4) scale(1 1.045)" font-size="32" text-anchor="middle">Training time [min]</text>
<text transform="translate(29.4 1700.9) rotate(-90) scale(1 1.045)" font-size="32" text-anchor="middle">Eye Contact</text>
</g>
<g fill="none" stroke="#0072BD" stroke-width="5.1"><circle cx="174.6" cy="1760.8" r="8.65"/><circle cx="177.9" cy="1760.8" r="8.65"/><circle cx="181.2" cy="1760.8" r="8.65"/><circle cx="184.5" cy="1760.8" r="8.65"/><circle cx="187.8" cy="1760.8" r="8.65"/><circle cx="211.8" cy="1760.8" r="8.65"/><circle cx="269.5" cy="1760.8" r="8.65"/><circle cx="276" cy="1760.8" r="8.65"/><circle cx="282" cy="1760.8" r="8.65"/><circle cx="288.5" cy="1760.8" r="8.65"/><circle cx="296.8" cy="1760.8" r="8.65"/><circle cx="377.9" cy="1760.8" r="8.65"/><circle cx="390.4" cy="1760.8" r="8.65"/><circle cx="413" cy="1760.8" r="8.65"/><circle cx="415" cy="1760.8" r="8.65"/><circle cx="417" cy="1760.8" r="8.65"/><circle cx="432.7" cy="1760.8" r="8.65"/><circle cx="454" cy="1760.8" r="8.65"/><circle cx="458" cy="1760.8" r="8.65"/><circle cx="461.8" cy="1760.8" r="8.65"/><circle cx="487.5" cy="1760.8" r="8.65"/><circle cx="499.4" cy="1760.8" r="8.65"/><circle cx="505" cy="1760.8" r="8.65"/><circle cx="516.6" cy="1760.8" r="8.65"/><circle cx="523" cy="1760.8" r="8.65"/><circle cx="530" cy="1760.8" r="8.65"/><circle cx="536" cy="1760.8" r="8.65"/><circle cx="542" cy="1760.8" r="8.65"/><circle cx="555" cy="1760.8" r="8.65"/><circle cx="573.3" cy="1760.8" r="8.65"/></g>
<g fill="none" stroke="#D95319" stroke-width="5.1"><circle cx="180.9" cy="1700.9" r="8.65"/><circle cx="220.6" cy="1700.9" r="8.65"/><circle cx="236.7" cy="1700.9" r="8.65"/><circle cx="323" cy="1700.9" r="8.65"/><circle cx="569.2" cy="1700.9" r="8.65"/></g>
<g fill="none" stroke="#EDB120" stroke-width="5.1"><circle cx="178.5" cy="1641" r="8.65"/><circle cx="181.4" cy="1641" r="8.65"/><circle cx="184.3" cy="1641" r="8.65"/><circle cx="187.2" cy="1641" r="8.65"/><circle cx="220" cy="1641" r="8.65"/><circle cx="512.3" cy="1641" r="8.65"/><circle cx="538" cy="1641" r="8.65"/><circle cx="560.4" cy="1641" r="8.65"/><circle cx="566" cy="1641" r="8.65"/><circle cx="573.9" cy="1641" r="8.65"/><circle cx="592.5" cy="1641" r="8.65"/><circle cx="605" cy="1641" r="8.65"/></g>
<text transform="translate(420.15 1601.7) scale(1 1.045)" font-family="Liberation Sans, sans-serif" font-weight="bold" font-size="32" fill="#000" text-anchor="middle">Team 11</text>
<g fill="#262626">
<rect x="867.3" y="1608.15" width="5.6" height="184.25"/>
<rect x="867.3" y="1786.8" width="534.5" height="5.6"/>
<rect x="870.1" y="1638.2" width="7.7" height="5.6"/>
<rect x="870.1" y="1698.1" width="7.7" height="5.6"/>
<rect x="870.1" y="1758" width="7.7" height="5.6"/>
<rect x="867.3" y="1781.9" width="5.6" height="7.7"/>
<rect x="1043.6" y="1781.9" width="5.6" height="7.7"/>
<rect x="1219.9" y="1781.9" width="5.6" height="7.7"/>
<rect x="1396.2" y="1781.9" width="5.6" height="7.7"/>
</g>
<g fill="#262626" font-family="Liberation Sans, sans-serif" font-weight="bold">
<text transform="translate(857.9 1651.7) scale(1 1.045)" font-size="29.7" text-anchor="end">IC &amp; MI</text>
<text transform="translate(857.9 1710.9) scale(1 1.045)" font-size="29.7" text-anchor="end">A &amp; MI</text>
<text transform="translate(857.9 1770.1) scale(1 1.045)" font-size="29.7" text-anchor="end">A &amp; IC</text>
<text transform="translate(870.1 1827.8) scale(1 1.02)" font-size="29.5" text-anchor="middle">0</text>
<text transform="translate(1046.4 1827.8) scale(1 1.02)" font-size="29.5" text-anchor="middle">2</text>
<text transform="translate(1222.7 1827.8) scale(1 1.02)" font-size="29.5" text-anchor="middle">4</text>
<text transform="translate(1399 1827.8) scale(1 1.02)" font-size="29.5" text-anchor="middle">6</text>
<text transform="translate(1135.55 1866.4) scale(1 1.045)" font-size="32" text-anchor="middle">Training time [min]</text>
<text transform="translate(743.8 1700.9) rotate(-90) scale(1 1.045)" font-size="32" text-anchor="middle">Eye Contact</text>
</g>
<g fill="none" stroke="#0072BD" stroke-width="5.1"><circle cx="958.8" cy="1760.8" r="8.65"/><circle cx="967.8" cy="1760.8" r="8.65"/><circle cx="974.37" cy="1760.8" r="8.65"/><circle cx="980.93" cy="1760.8" r="8.65"/><circle cx="987.5" cy="1760.8" r="8.65"/><circle cx="994.07" cy="1760.8" r="8.65"/><circle cx="1000.63" cy="1760.8" r="8.65"/><circle cx="1007.2" cy="1760.8" r="8.65"/><circle cx="1016.2" cy="1760.8" r="8.65"/><circle cx="1040.4" cy="1760.8" r="8.65"/><circle cx="1111.3" cy="1760.8" r="8.65"/><circle cx="1113" cy="1760.8" r="8.65"/><circle cx="1158" cy="1760.8" r="8.65"/><circle cx="1166" cy="1760.8" r="8.65"/><circle cx="1174.2" cy="1760.8" r="8.65"/><circle cx="1192.2" cy="1760.8" r="8.65"/><circle cx="1200.6" cy="1760.8" r="8.65"/><circle cx="1209.5" cy="1760.8" r="8.65"/><circle cx="1213.5" cy="1760.8" r="8.65"/><circle cx="1243.3" cy="1760.8" r="8.65"/><circle cx="1250.8" cy="1760.8" r="8.65"/><circle cx="1258" cy="1760.8" r="8.65"/><circle cx="1271.5" cy="1760.8" r="8.65"/><circle cx="1278" cy="1760.8" r="8.65"/><circle cx="1287.5" cy="1760.8" r="8.65"/><circle cx="1308.5" cy="1760.8" r="8.65"/><circle cx="1363.2" cy="1760.8" r="8.65"/></g>
<g fill="none" stroke="#D95319" stroke-width="5.1"><circle cx="951.8" cy="1700.9" r="8.65"/></g>
<text transform="translate(1134.55 1601.7) scale(1 1.045)" font-family="Liberation Sans, sans-serif" font-weight="bold" font-size="32" fill="#000" text-anchor="middle">Team 12</text>
<g fill="#262626">
<rect x="152.9" y="1922.6" width="5.6" height="184.42"/>
<rect x="152.9" y="2101.42" width="534.5" height="5.6"/>
<rect x="155.7" y="1952.82" width="7.7" height="5.6"/>
<rect x="155.7" y="2012.72" width="7.7" height="5.6"/>
<rect x="155.7" y="2072.62" width="7.7" height="5.6"/>
<rect x="152.9" y="2096.52" width="5.6" height="7.7"/>
<rect x="270.43" y="2096.52" width="5.6" height="7.7"/>
<rect x="387.97" y="2096.52" width="5.6" height="7.7"/>
<rect x="505.5" y="2096.52" width="5.6" height="7.7"/>
<rect x="623.03" y="2096.52" width="5.6" height="7.7"/>
</g>
<g fill="#262626" font-family="Liberation Sans, sans-serif" font-weight="bold">
<text transform="translate(143.5 1966.32) scale(1 1.045)" font-size="29.7" text-anchor="end">IC &amp; MI</text>
<text transform="translate(143.5 2025.52) scale(1 1.045)" font-size="29.7" text-anchor="end">A &amp; MI</text>
<text transform="translate(143.5 2084.72) scale(1 1.045)" font-size="29.7" text-anchor="end">A &amp; IC</text>
<text transform="translate(155.7 2142.42) scale(1 1.02)" font-size="29.5" text-anchor="middle">1</text>
<text transform="translate(273.23 2142.42) scale(1 1.02)" font-size="29.5" text-anchor="middle">2</text>
<text transform="translate(390.77 2142.42) scale(1 1.02)" font-size="29.5" text-anchor="middle">3</text>
<text transform="translate(508.3 2142.42) scale(1 1.02)" font-size="29.5" text-anchor="middle">4</text>
<text transform="translate(625.83 2142.42) scale(1 1.02)" font-size="29.5" text-anchor="middle">5</text>
<text transform="translate(421.15 2181.02) scale(1 1.045)" font-size="32" text-anchor="middle">Training time [min]</text>
<text transform="translate(29.4 2015.52) rotate(-90) scale(1 1.045)" font-size="32" text-anchor="middle">Eye Contact</text>
</g>
<g fill="none" stroke="#0072BD" stroke-width="5.1"><circle cx="263.9" cy="2075.42" r="8.65"/><circle cx="280.5" cy="2075.42" r="8.65"/><circle cx="316.9" cy="2075.42" r="8.65"/><circle cx="319.1" cy="2075.42" r="8.65"/><circle cx="343.5" cy="2075.42" r="8.65"/><circle cx="347" cy="2075.42" r="8.65"/><circle cx="350.5" cy="2075.42" r="8.65"/><circle cx="354.1" cy="2075.42" r="8.65"/><circle cx="474.5" cy="2075.42" r="8.65"/><circle cx="583.1" cy="2075.42" r="8.65"/><circle cx="590.5" cy="2075.42" r="8.65"/><circle cx="597" cy="2075.42" r="8.65"/><circle cx="602" cy="2075.42" r="8.65"/><circle cx="612.8" cy="2075.42" r="8.65"/></g>
<g fill="none" stroke="#D95319" stroke-width="5.1"><circle cx="158.5" cy="2015.52" r="8.65"/><circle cx="162.5" cy="2015.52" r="8.65"/><circle cx="166.4" cy="2015.52" r="8.65"/><circle cx="203.7" cy="2015.52" r="8.65"/><circle cx="209" cy="2015.52" r="8.65"/><circle cx="214.7" cy="2015.52" r="8.65"/><circle cx="220.2" cy="2015.52" r="8.65"/><circle cx="418.2" cy="2015.52" r="8.65"/><circle cx="421.2" cy="2015.52" r="8.65"/><circle cx="424.2" cy="2015.52" r="8.65"/><circle cx="459.6" cy="2015.52" r="8.65"/><circle cx="463.5" cy="2015.52" r="8.65"/><circle cx="468" cy="2015.52" r="8.65"/><circle cx="472.1" cy="2015.52" r="8.65"/><circle cx="635.2" cy="2015.52" r="8.65"/></g>
<text transform="translate(420.15 1916.2) scale(1 1.045)" font-family="Liberation Sans, sans-serif" font-weight="bold" font-size="32" fill="#000" text-anchor="middle">Team 13</text>
<g fill="#262626">
<rect x="867.3" y="1922.6" width="5.6" height="184.42"/>
<rect x="867.3" y="2101.42" width="534.5" height="5.6"/>
<rect x="870.1" y="1952.82" width="7.7" height="5.6"/>
<rect x="870.1" y="2012.72" width="7.7" height="5.6"/>
<rect x="870.1" y="2072.62" width="7.7" height="5.6"/>
<rect x="867.3" y="2096.52" width="5.6" height="7.7"/>
<rect x="1043.6" y="2096.52" width="5.6" height="7.7"/>
<rect x="1219.9" y="2096.52" width="5.6" height="7.7"/>
<rect x="1396.2" y="2096.52" width="5.6" height="7.7"/>
</g>
<g fill="#262626" font-family="Liberation Sans, sans-serif" font-weight="bold">
<text transform="translate(857.9 1966.32) scale(1 1.045)" font-size="29.7" text-anchor="end">IC &amp; MI</text>
<text transform="translate(857.9 2025.52) scale(1 1.045)" font-size="29.7" text-anchor="end">A &amp; MI</text>
<text transform="translate(857.9 2084.72) scale(1 1.045)" font-size="29.7" text-anchor="end">A &amp; IC</text>
<text transform="translate(870.1 2142.42) scale(1 1.02)" font-size="29.5" text-anchor="middle">0</text>
<text transform="translate(1046.4 2142.42) scale(1 1.02)" font-size="29.5" text-anchor="middle">2</text>
<text transform="translate(1222.7 2142.42) scale(1 1.02)" font-size="29.5" text-anchor="middle">4</text>
<text transform="translate(1399 2142.42) scale(1 1.02)" font-size="29.5" text-anchor="middle">6</text>
<text transform="translate(1135.55 2181.02) scale(1 1.045)" font-size="32" text-anchor="middle">Training time [min]</text>
<text transform="translate(743.8 2015.52) rotate(-90) scale(1 1.045)" font-size="32" text-anchor="middle">Eye Contact</text>
</g>
<g fill="none" stroke="#0072BD" stroke-width="5.1"><circle cx="921" cy="2075.42" r="8.65"/><circle cx="925" cy="2075.42" r="8.65"/><circle cx="929" cy="2075.42" r="8.65"/><circle cx="933" cy="2075.42" r="8.65"/><circle cx="937" cy="2075.42" r="8.65"/><circle cx="941" cy="2075.42" r="8.65"/><circle cx="960" cy="2075.42" r="8.65"/><circle cx="962.35" cy="2075.42" r="8.65"/><circle cx="964.7" cy="2075.42" r="8.65"/><circle cx="1235.4" cy="2075.42" r="8.65"/><circle cx="1274.5" cy="2075.42" r="8.65"/><circle cx="1289.7" cy="2075.42" r="8.65"/><circle cx="1305.2" cy="2075.42" r="8.65"/><circle cx="1318" cy="2075.42" r="8.65"/><circle cx="1323" cy="2075.42" r="8.65"/><circle cx="1328" cy="2075.42" r="8.65"/><circle cx="1334.8" cy="2075.42" r="8.65"/></g>
<g fill="none" stroke="#D95319" stroke-width="5.1"><circle cx="904.3" cy="2015.52" r="8.65"/><circle cx="905.75" cy="2015.52" r="8.65"/><circle cx="907.2" cy="2015.52" r="8.65"/><circle cx="1074.4" cy="2015.52" r="8.65"/><circle cx="1078.25" cy="2015.52" r="8.65"/><circle cx="1082.1" cy="2015.52" r="8.65"/><circle cx="1085.95" cy="2015.52" r="8.65"/><circle cx="1089.8" cy="2015.52" r="8.65"/><circle cx="1100.6" cy="2015.52" r="8.65"/><circle cx="1221.5" cy="2015.52" r="8.65"/><circle cx="1381.3" cy="2015.52" r="8.65"/></g>
<text transform="translate(1134.55 1916.2) scale(1 1.045)" font-family="Liberation Sans, sans-serif" font-weight="bold" font-size="32" fill="#000" text-anchor="middle">Team 14</text></svg>
</body></html>
